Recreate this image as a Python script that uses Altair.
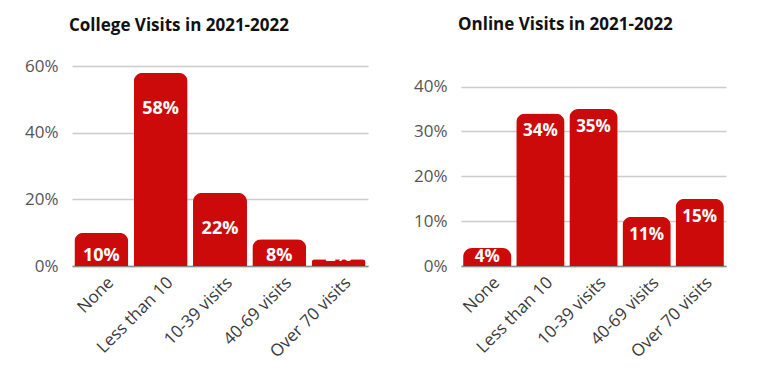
import altair as alt
import pandas as pd

categories = ["None", "Less than 10", "10-39 visits", "40-69 visits", "Over 70 visits"]
college_values = [10, 58, 22, 8, 2]
online_values = [4, 34, 35, 11, 15]

RED = "#cc0a0a"
FONT = "Open Sans"

college = pd.DataFrame({"cat": categories, "v": college_values})
online = pd.DataFrame({"cat": categories, "v": online_values})


def panel(df, title, dmax, top, step, w, shift, lsize, toff):
    base = alt.Chart(df)
    x = alt.X("cat:N", sort=categories, title=None,
              scale=alt.Scale(paddingInner=0.09, paddingOuter=0.04),
              axis=alt.Axis(labelAngle=-45, labelAlign="right", labelBaseline="top",
                            labelFontSize=17, labelColor="#3a3a3a", labelFont=FONT,
                            ticks=False, domain=True, domainColor="#8a8a8a",
                            domainWidth=1.5, labelPadding=8, labelOffset=4))
    y = alt.Y("v:Q", title=None,
              scale=alt.Scale(domain=[0, top], nice=False),
              axis=alt.Axis(values=list(range(0, dmax + 1, step)),
                            labelExpr="datum.value + '%'",
                            labelFontSize=17, labelColor="#555555", labelFont=FONT,
                            ticks=False, domain=False, gridColor="#cccccc",
                            gridWidth=1.5, labelPadding=14))
    bars = base.mark_bar(color=RED, cornerRadiusTopLeft=9, cornerRadiusTopRight=9).encode(x=x, y=y)
    labels = base.transform_calculate(
        ly=f"max(datum.v - {shift}, {2 if shift < 8 else 3})",
        txt="datum.v + '%'"
    ).mark_text(color="white", fontWeight="bold", fontSize=lsize, font=FONT,
                baseline="middle", clip=True).encode(
        x=alt.X("cat:N", sort=categories),
        y=alt.Y("ly:Q"),
        text="txt:N")
    return (bars + labels).properties(
        width=w, height=200,
        title=alt.TitleParams(title, anchor="start", frame="group", fontSize=17,
                              font=FONT, fontWeight="bold", color="#111111",
                              offset=toff, dx=-3))


left = panel(college, "College Visits in 2021-2022", 60, 60, 20, 296, 11, 18, 22)
right = panel(online, "Online Visits in 2021-2022", 40, 44.6, 10, 265, 4, 17, 32)

chart = alt.hconcat(left, right, spacing=45).properties(
    padding={"left": 16, "top": 8, "right": 5, "bottom": 5}
).configure_view(stroke=None).configure_concat(spacing=45)

chart.save("out.html", embed_options={"renderer": "svg", "actions": False})
